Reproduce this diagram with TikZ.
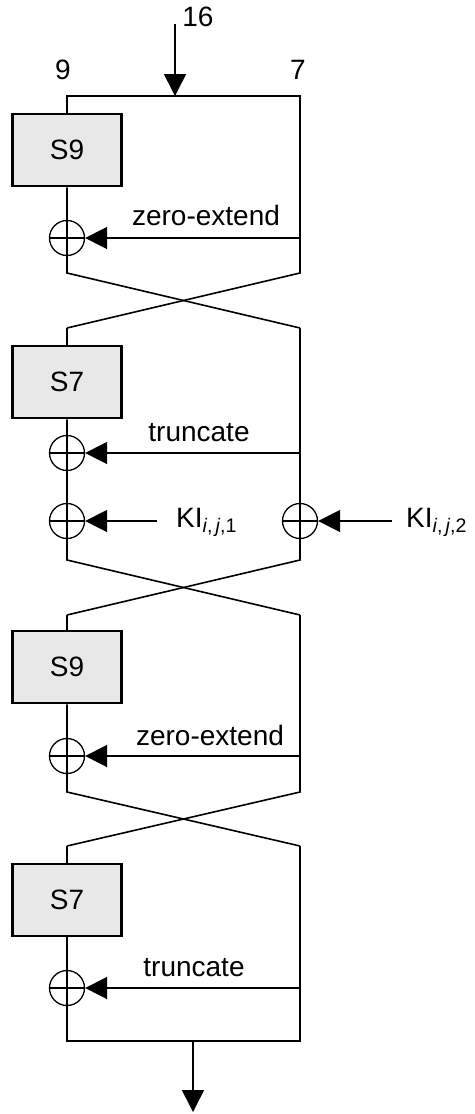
\documentclass[tikz,border=0pt]{standalone}
\usepackage{fontspec}
\setmainfont{Liberation Sans}
\usetikzlibrary{arrows.meta,positioning,calc}

\begin{document}
\begin{tikzpicture}[x=1pt,y=-1pt,font=\fontsize{28}{33}\selectfont,
    wire/.style={line width=1.6pt},
    feed/.style={line width=1.6pt,-{Triangle[length=22pt,width=22pt]}},
    sbox/.style={draw,line width=2.5pt,fill=black!9,minimum width=109pt,minimum height=72pt,inner sep=0pt},
    xor/.style={circle,draw,line width=1.3pt,minimum size=35pt,inner sep=0pt,
      path picture={\draw[line width=1.3pt] (path picture bounding box.west) -- (path picture bounding box.east)
        (path picture bounding box.north) -- (path picture bounding box.south);}}]
    \useasboundingbox (0,0) rectangle (474,1114);

    % input and split
    \node (n16) at (198,17) {16};
    \node (n9) at (63,70) {9};
    \node (n7) at (298,70) {7};
    \coordinate (in) at (175,24);
    \coordinate (tl) at (67,96);
    \coordinate (tm) at (175,96);
    \coordinate (tr) at (300,96);
    \draw[feed] (in) -- (tm);

    % crossing points
    \foreach \n/\y in {a/273,b/328,c/560,d/615,e/792,f/846,g/1041}{
      \coordinate (l\n) at (67,\y);
      \coordinate (r\n) at (300,\y);
    }

    % first S9
    \node[sbox] (sa) at (67,150) {S9};
    \node[xor] (xa) at (67,238) {};
    \draw[wire] (sa) -- (tl) -- (tr) -- (ra) -- (lb);
    \draw[wire] (sa) -- (xa) -- (la) -- (rb);
    \draw[feed] (tr |- xa) -- (xa);
    \node (za) at (206,215) {zero-extend};

    % S7 and key
    \node[sbox] (sb) at (67,382) {S7};
    \node[xor] (xb) at (67,453) {};
    \node[xor] (xc) at (67,521) {};
    \node[xor] (xd) at (300,521) {};
    \draw[wire] (lb) -- (sb) -- (xb) -- (xc) -- (lc) -- (rd);
    \draw[wire] (rb) -- (xd) -- (rc) -- (ld);
    \draw[feed] (rb |- xb) -- (xb);
    \node (tb) at (199,433) {truncate};
    \coordinate (ka) at (157,521);
    \coordinate (kb) at (392,521);
    \draw[feed] (ka) -- (xc);
    \draw[feed] (kb) -- (xd);
    \node[anchor=base west,inner sep=0pt] (kia) at (176,527) {KI\textsubscript{\textit{i},\,\textit{j},1}};
    \node[anchor=base west,inner sep=0pt] (kib) at (406,527) {KI\textsubscript{\textit{i},\,\textit{j},2}};

    % second S9
    \node[sbox] (sc) at (67,667) {S9};
    \node[xor] (xe) at (67,756) {};
    \draw[wire] (ld) -- (sc) -- (xe) -- (le) -- (rf);
    \draw[wire] (rd) -- (re) -- (lf);
    \draw[feed] (rd |- xe) -- (xe);
    \node (zc) at (210,735) {zero-extend};

    % last S7 and output
    \node[sbox] (sd) at (67,900) {S7};
    \node[xor] (xf) at (67,988) {};
    \draw[wire] (lf) -- (sd) -- (xf) -- (lg) -- (rg) -- (rf);
    \draw[feed] (rf |- xf) -- (xf);
    \node (td) at (194,968) {truncate};
    \coordinate (bm) at (193,1041);
    \coordinate (out) at (193,1112);
    \draw[feed] (bm) -- (out);
\end{tikzpicture}
\end{document}
